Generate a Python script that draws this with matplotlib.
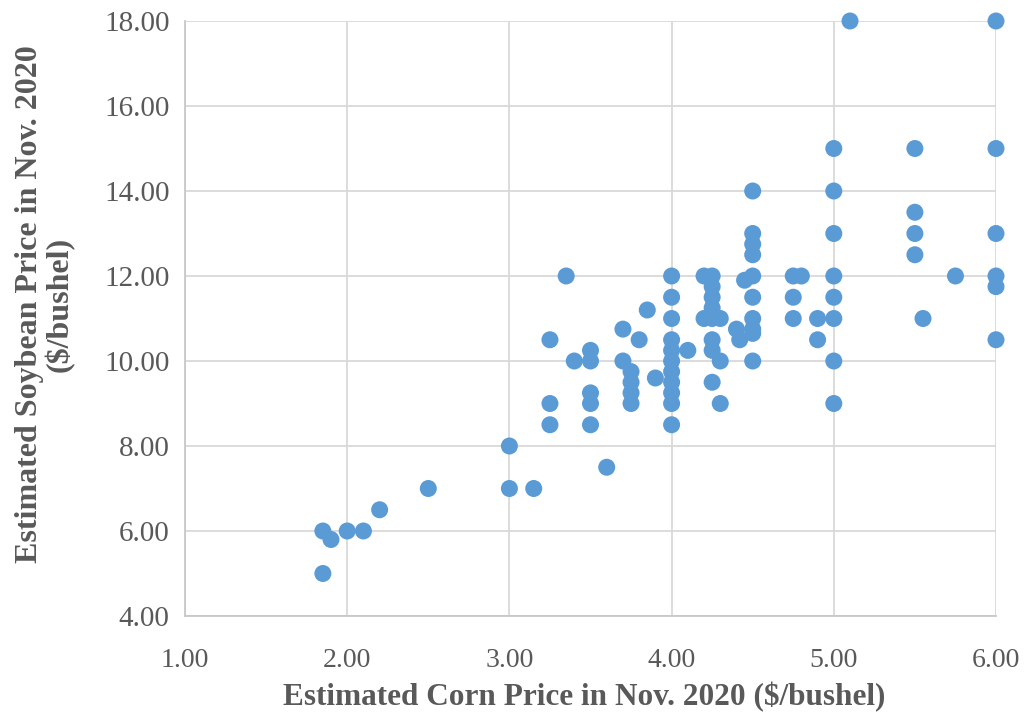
import matplotlib
matplotlib.use("Agg")
import matplotlib.pyplot as plt

corn = [1.85, 1.85, 1.9, 2.0, 2.1, 2.2, 2.5, 3.0, 3.0, 3.15,
        3.25, 3.25, 3.25, 3.35, 3.4, 3.5, 3.5, 3.5, 3.5, 3.5,
        3.6, 3.7, 3.7, 3.75, 3.75, 3.75, 3.75, 3.8, 3.85, 3.9,
        4.0, 4.0, 4.0, 4.0, 4.0, 4.0, 4.0, 4.0, 4.0, 4.0, 4.0,
        4.1, 4.2, 4.25, 4.2, 4.25, 4.25, 4.25, 4.25, 4.3, 4.25, 4.25, 4.3, 4.25, 4.3,
        4.4, 4.42, 4.45, 4.5, 4.5, 4.5, 4.5, 4.5, 4.5, 4.5, 4.5, 4.5, 4.5,
        4.75, 4.8, 4.75, 4.75, 4.9, 4.9,
        5.0, 5.0, 5.0, 5.0, 5.0, 5.0, 5.0, 5.0, 5.1,
        5.5, 5.5, 5.5, 5.5, 5.55, 5.75,
        6.0, 6.0, 6.0, 6.0, 6.0, 6.0]
soy = [6.0, 5.0, 5.8, 6.0, 6.0, 6.5, 7.0, 8.0, 7.0, 7.0,
       10.5, 9.0, 8.5, 12.0, 10.0, 10.25, 10.0, 9.25, 9.0, 8.5,
       7.5, 10.75, 10.0, 9.75, 9.5, 9.25, 9.0, 10.5, 11.2, 9.6,
       12.0, 11.5, 11.0, 10.5, 10.25, 10.0, 9.75, 9.5, 9.25, 9.0, 8.5,
       10.25, 12.0, 12.0, 11.0, 11.75, 11.5, 11.25, 11.0, 11.0, 10.5, 10.25, 10.0, 9.5, 9.0,
       10.75, 10.5, 11.9, 14.0, 13.0, 12.75, 12.5, 12.0, 11.5, 11.0, 10.75, 10.65, 10.0,
       12.0, 12.0, 11.5, 11.0, 11.0, 10.5,
       15.0, 14.0, 13.0, 12.0, 11.5, 11.0, 10.0, 9.0, 18.0,
       15.0, 13.5, 13.0, 12.5, 11.0, 12.0,
       18.0, 15.0, 13.0, 12.0, 11.75, 10.5]

x_ticks = [1, 2, 3, 4, 5, 6]
y_ticks = [4, 6, 8, 10, 12, 14, 16, 18]

plt.rcParams['font.family'] = ['Liberation Serif', 'DejaVu Serif']

fig = plt.figure(figsize=(10.31, 7.17), dpi=100)
ax = fig.add_axes([185/1031, 1-616/717, (996-185)/1031, (616-21)/717])

ax.scatter(corn, soy, s=150, color='#5B9BD5', edgecolors='none', zorder=3, clip_on=False)

ax.set_xlim(1, 6)
ax.set_ylim(4, 18)
ax.set_xticks(x_ticks)
ax.set_yticks(y_ticks)
ax.set_xticklabels([f"{v:.2f}" for v in x_ticks])
ax.set_yticklabels([f"{v:.2f}" for v in y_ticks])
ax.grid(True, color='#D9D9D9', linewidth=1.3, zorder=0)
ax.set_axisbelow(True)
for s in ['top', 'right']:
    ax.spines[s].set_visible(False)
for s in ['left', 'bottom']:
    ax.spines[s].set_color('#C8C8C8')
    ax.spines[s].set_linewidth(1.3)
ax.tick_params(length=0, labelcolor='#595959')
ax.tick_params(axis='y', labelsize=21, pad=11)
ax.tick_params(axis='x', labelsize=20, pad=23)

ax.set_xlabel("Estimated Corn Price in Nov. 2020 ($/bushel)", fontsize=22.5,
              fontweight='bold', color='#595959')
ax.set_ylabel("Estimated Soybean Price in Nov. 2020\n($/bushel)", fontsize=23,
              fontweight='bold', color='#595959', linespacing=1.0)
ax.xaxis.label.set_va('center')
ax.xaxis.set_label_coords((584-185)/811, (616-697)/595)
ax.yaxis.label.set_va('center')
ax.yaxis.set_label_coords((45-185)/811, (616-304)/595)

fig.savefig("out.png", dpi=100)
